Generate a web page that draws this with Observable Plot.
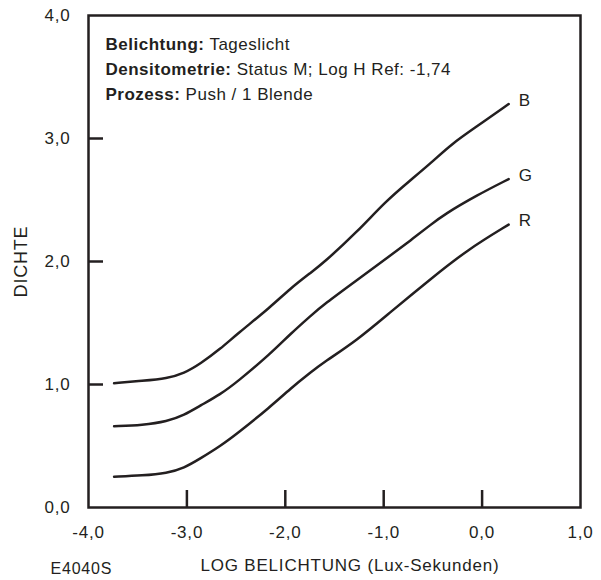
<!DOCTYPE html>
<html>
<head>
<meta charset="utf-8">
<script src="https://cdn.jsdelivr.net/npm/d3@7"></script>
<script src="https://cdn.jsdelivr.net/npm/@observablehq/plot@0.6"></script>
<style>
  html, body { margin: 0; padding: 0; background: #fff; }
</style>
</head>
<body>
<div id="chart"></div>
<script>
// ---- data ----
const seriesNames = ["B", "G", "R"];

const logH_B = [-3.74, -3.45, -3.20, -3.03, -2.86, -2.66, -2.49, -2.15, -1.95, -1.74, -1.61, -1.27, -0.98, -0.73, -0.52, -0.32, -0.05, 0.27];
const dens_B = [1.01, 1.03, 1.05, 1.09, 1.17, 1.29, 1.41, 1.63, 1.78, 1.91, 1.99, 2.24, 2.49, 2.66, 2.80, 2.95, 3.10, 3.28];

const logH_G = [-3.74, -3.45, -3.20, -3.03, -2.86, -2.66, -2.49, -2.15, -1.95, -1.74, -1.61, -1.27, -0.93, -0.73, -0.52, -0.39, -0.05, 0.27];
const dens_G = [0.66, 0.67, 0.70, 0.75, 0.83, 0.92, 1.02, 1.25, 1.41, 1.56, 1.65, 1.85, 2.05, 2.17, 2.30, 2.38, 2.54, 2.67];

const logH_R = [-3.74, -3.45, -3.20, -3.03, -2.86, -2.66, -2.49, -2.15, -1.95, -1.74, -1.61, -1.27, -0.93, -0.52, -0.15, 0.27];
const dens_R = [0.25, 0.26, 0.28, 0.32, 0.40, 0.50, 0.60, 0.82, 0.965, 1.10, 1.18, 1.36, 1.59, 1.86, 2.095, 2.30];

const xTickLabels = [-4, -3, -2, -1, 0, 1];
const xTickMarks = [-3, -2, -1, 0];
const yTickLabels = [0, 1, 2, 3, 4];
const yTickMarks = [1, 2, 3];

const annotKeys = ["Belichtung:", "Densitometrie:", "Prozess:"];
const annotVals = ["Tageslicht", "Status M; Log H Ref: -1,74", "Push / 1 Blende"];

const xTitle = "LOG BELICHTUNG (Lux-Sekunden)";
const yTitle = "DICHTE";
const codeLabel = "E4040S";

// ---- build table ----
const seriesData = {B: [logH_B, dens_B], G: [logH_G, dens_G], R: [logH_R, dens_R]};
const rows = seriesNames.flatMap(s => seriesData[s][0].map((x, i) => ({series: s, logH: x, density: seriesData[s][1][i]})));

const ink = "#231f20";
const fmt = d => d.toFixed(1).replace(".", ",");

const plot = Plot.plot({
  width: 601,
  height: 580,
  marginLeft: 88,
  marginRight: 21,
  marginTop: 15,
  marginBottom: 73,
  style: {fontFamily: "'Liberation Sans', Arial, Helvetica, sans-serif", fontSize: "17px", color: ink, background: "#fff", letterSpacing: "0.8px"},
  x: {domain: [-4, 1]},
  y: {domain: [0, 4]},
  marks: [
    // inward tick marks
    Plot.axisX({ticks: xTickMarks, tickSize: -17, tickFormat: () => "", label: null, strokeWidth: 2.5, stroke: ink}),
    Plot.axisY({ticks: yTickMarks, tickSize: -15, tickFormat: () => "", label: null, strokeWidth: 2.5, stroke: ink}),
    // tick labels
    Plot.axisX({ticks: xTickLabels, tickSize: 0, tickPadding: 18, tickFormat: fmt, label: null, fill: ink}),
    Plot.axisY({ticks: yTickLabels, tickSize: 0, tickPadding: 18, tickFormat: fmt, label: null, fill: ink}),
    // curves
    Plot.line(rows, {x: "logH", y: "density", z: "series", stroke: ink, strokeWidth: 2.5, curve: "basis"}),
    Plot.text(rows, Plot.selectLast({x: "logH", y: "density", z: "series", text: "series", textAnchor: "start", dx: 10, dy: -4, fill: ink})),
    // frame
    Plot.frame({stroke: ink, strokeWidth: 2.5}),
    // annotations
    ...annotKeys.map((k, i) => Plot.text([k + " " + annotVals[i]], {
      frameAnchor: "top-left", dx: 17, dy: 29 + 25 * i, textAnchor: "start", lineAnchor: "middle", fill: ink
    })),
    // axis titles
    Plot.text([xTitle], {frameAnchor: "bottom-left", dx: 112, dy: 58, textAnchor: "start", lineAnchor: "middle", fill: ink}),
    Plot.text([yTitle], {frameAnchor: "left", dx: -67, rotate: -90, textAnchor: "middle", lineAnchor: "middle", fill: ink, fontSize: 18}),
    Plot.text([codeLabel], {frameAnchor: "bottom-left", dx: -38, dy: 61, textAnchor: "start", lineAnchor: "middle", fill: ink, fontSize: 16})
  ]
});

// bold the key part of each annotation line
const NS = "http://www.w3.org/2000/svg";
plot.querySelectorAll("text").forEach(t => {
  const s = t.textContent;
  const key = annotKeys.find(k => s.startsWith(k));
  if (!key) return;
  t.textContent = "";
  t.style.letterSpacing = "0.5px";
  const a = document.createElementNS(NS, "tspan");
  a.setAttribute("font-weight", "bold");
  a.textContent = key;
  const b = document.createElementNS(NS, "tspan");
  b.textContent = s.slice(key.length);
  t.appendChild(a);
  t.appendChild(b);
});

document.getElementById("chart").appendChild(plot);
</script>
</body>
</html>
